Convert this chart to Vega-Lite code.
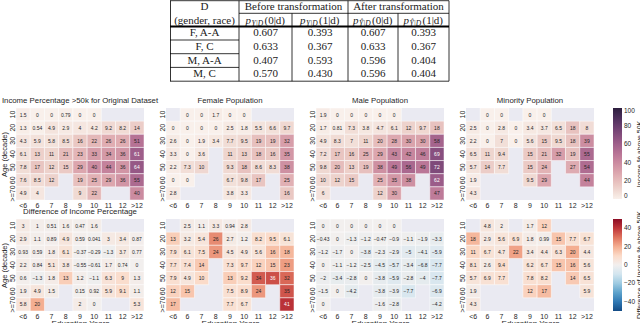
{
"$schema":"https://vega.github.io/schema/vega-lite/v6.json",
"background":"white",
"padding":{"left":0,"top":0,"right":0,"bottom":0},
"spacing":0,
"resolve":{"scale":{"color":"independent"}},
"config":{
 "font":"Liberation Sans",
 "view":{"stroke":null,"fill":"#eaeaf2"},
 "axis":{"domain":false,"ticks":false,"grid":false,"labelFontSize":7,"labelColor":"#262626","titleFontSize":8,"titleFontWeight":"normal","titleColor":"#262626","labelPadding":1,"titlePadding":0},
 "axisX":{"labelAngle":0},
 "axisY":{"labelAngle":270,"titleFontSize":7.5},
 "title":{"fontSize":7.8,"fontWeight":"normal","color":"#262626","offset":2.5},
 "legend":{"gradientLength":91,"gradientThickness":9,"titleOrient":"right","titleAnchor":"middle","labelFontSize":6.5,"titleFontSize":7,"titleFontWeight":"normal","offset":17.5,"labelOffset":1.5,"titlePadding":1,"gradientStrokeWidth":0,"labelColor":"#262626","titleColor":"#262626","padding":0}
},
"datasets":{
"tl":[
{"x":0,"x2":279,"y":0.7,"y2":0.7},{"x":69,"x2":279,"y":13.3,"y2":13.3},{"x":0,"x2":69,"y":40,"y2":40},{"x":0,"x2":69,"y":53.7,"y2":53.7},{"x":0,"x2":69,"y":67.4,"y2":67.4},{"x":0,"x2":279,"y":81.2,"y2":81.2},
{"x":0.5,"x2":0.5,"y":0.7,"y2":81.2},{"x":69,"x2":69,"y":0.7,"y2":81.2},{"x":122,"x2":122,"y":13.3,"y2":81.2},{"x":178,"x2":178,"y":0.7,"y2":81.2},{"x":228,"x2":228,"y":13.3,"y2":81.2},{"x":279,"x2":279,"y":0.7,"y2":81.2}],
"tk":[{"x":0,"x2":279,"y":26.5,"y2":26.5}],
"tt":[
{"x":34.5,"y":7,"t":"D"},{"x":34.5,"y":20.5,"t":"(gender, race)"},{"x":123.5,"y":7,"t":"Before transformation"},{"x":228.5,"y":7,"t":"After transformation"},
{"x":34.5,"y":33.3,"t":"F, A-A"},{"x":95.5,"y":33.3,"t":"0.607"},{"x":150,"y":33.3,"t":"0.393"},{"x":203,"y":33.3,"t":"0.607"},{"x":253.5,"y":33.3,"t":"0.393"},
{"x":34.5,"y":46.9,"t":"F, C"},{"x":95.5,"y":46.9,"t":"0.633"},{"x":150,"y":46.9,"t":"0.367"},{"x":203,"y":46.9,"t":"0.633"},{"x":253.5,"y":46.9,"t":"0.367"},
{"x":34.5,"y":60.6,"t":"M, A-A"},{"x":95.5,"y":60.6,"t":"0.407"},{"x":150,"y":60.6,"t":"0.593"},{"x":203,"y":60.6,"t":"0.596"},{"x":253.5,"y":60.6,"t":"0.404"},
{"x":34.5,"y":74.3,"t":"M, C"},{"x":95.5,"y":74.3,"t":"0.570"},{"x":150,"y":74.3,"t":"0.430"},{"x":203,"y":74.3,"t":"0.596"},{"x":253.5,"y":74.3,"t":"0.404"}],
"tm":[{"x":95.5,"y":20.5,"s":"Y|D","r":"(0|d)"},{"x":150,"y":20.5,"s":"Y|D","r":"(1|d)"},{"x":203,"y":20.5,"s":"Ŷ|D","r":"(0|d)"},{"x":253.5,"y":20.5,"s":"Ŷ|D","r":"(1|d)"}],
"pct":[
{"g":"o","a":"10","e":"<6","v":1.5},{"g":"o","a":"10","e":"6","v":0},{"g":"o","a":"10","e":"7","v":0},{"g":"o","a":"10","e":"8","v":0.79},{"g":"o","a":"10","e":"9","v":0},{"g":"o","a":"10","e":"10","v":0},
{"g":"o","a":"20","e":"<6","v":1.3},{"g":"o","a":"20","e":"6","v":0.54},{"g":"o","a":"20","e":"7","v":4.9},{"g":"o","a":"20","e":"8","v":2.9},{"g":"o","a":"20","e":"9","v":4},{"g":"o","a":"20","e":"10","v":4.2},{"g":"o","a":"20","e":"11","v":9.2},{"g":"o","a":"20","e":"12","v":8.2},{"g":"o","a":"20","e":">12","v":14},
{"g":"o","a":"30","e":"<6","v":4.3},{"g":"o","a":"30","e":"6","v":5.9},{"g":"o","a":"30","e":"7","v":5.8},{"g":"o","a":"30","e":"8","v":8.5},{"g":"o","a":"30","e":"9","v":16},{"g":"o","a":"30","e":"10","v":22},{"g":"o","a":"30","e":"11","v":26},{"g":"o","a":"30","e":"12","v":26},{"g":"o","a":"30","e":">12","v":51},
{"g":"o","a":"40","e":"<6","v":6.1},{"g":"o","a":"40","e":"6","v":13},{"g":"o","a":"40","e":"7","v":11},{"g":"o","a":"40","e":"8","v":21},{"g":"o","a":"40","e":"9","v":23},{"g":"o","a":"40","e":"10","v":33},{"g":"o","a":"40","e":"11","v":34},{"g":"o","a":"40","e":"12","v":36},{"g":"o","a":"40","e":">12","v":61},
{"g":"o","a":"50","e":"<6","v":7.8},{"g":"o","a":"50","e":"6","v":17},{"g":"o","a":"50","e":"7","v":12},{"g":"o","a":"50","e":"8","v":15},{"g":"o","a":"50","e":"9","v":29},{"g":"o","a":"50","e":"10","v":40},{"g":"o","a":"50","e":"11","v":44},{"g":"o","a":"50","e":"12","v":36},{"g":"o","a":"50","e":">12","v":64},
{"g":"o","a":"60","e":"<6","v":7.6},{"g":"o","a":"60","e":"6","v":8.5},{"g":"o","a":"60","e":"7","v":12},{"g":"o","a":"60","e":"9","v":19},{"g":"o","a":"60","e":"10","v":25},{"g":"o","a":"60","e":"11","v":29},{"g":"o","a":"60","e":"12","v":36},{"g":"o","a":"60","e":">12","v":55},
{"g":"o","a":">=70","e":"<6","v":4.9},{"g":"o","a":">=70","e":"6","v":4},{"g":"o","a":">=70","e":"9","v":9},{"g":"o","a":">=70","e":"10","v":22},{"g":"o","a":">=70","e":">12","v":40},
{"g":"f","a":"10","e":"6","v":0},{"g":"f","a":"10","e":"7","v":0},{"g":"f","a":"10","e":"8","v":1.7},{"g":"f","a":"10","e":"9","v":0},{"g":"f","a":"10","e":"10","v":0},
{"g":"f","a":"20","e":"<6","v":0},{"g":"f","a":"20","e":"6","v":0},{"g":"f","a":"20","e":"7","v":0},{"g":"f","a":"20","e":"8","v":0},{"g":"f","a":"20","e":"9","v":2.5},{"g":"f","a":"20","e":"10","v":1.8},{"g":"f","a":"20","e":"11","v":5.5},{"g":"f","a":"20","e":"12","v":6.6},{"g":"f","a":"20","e":">12","v":9.7},
{"g":"f","a":"30","e":"<6","v":2.6},{"g":"f","a":"30","e":"6","v":0},{"g":"f","a":"30","e":"7","v":1.9},{"g":"f","a":"30","e":"8","v":3.4},{"g":"f","a":"30","e":"9","v":7.7},{"g":"f","a":"30","e":"10","v":9.5},{"g":"f","a":"30","e":"11","v":19},{"g":"f","a":"30","e":"12","v":19},{"g":"f","a":"30","e":">12","v":32},
{"g":"f","a":"40","e":"<6","v":3.3},{"g":"f","a":"40","e":"6","v":0},{"g":"f","a":"40","e":"7","v":3.6},{"g":"f","a":"40","e":"9","v":11},{"g":"f","a":"40","e":"10","v":13},{"g":"f","a":"40","e":"11","v":18},{"g":"f","a":"40","e":"12","v":16},{"g":"f","a":"40","e":">12","v":35},
{"g":"f","a":"50","e":"<6","v":2.2},{"g":"f","a":"50","e":"6","v":7.3},{"g":"f","a":"50","e":"7","v":10},{"g":"f","a":"50","e":"9","v":9.3},{"g":"f","a":"50","e":"10","v":18},{"g":"f","a":"50","e":"11","v":8.6},{"g":"f","a":"50","e":"12","v":8.3},{"g":"f","a":"50","e":">12","v":38},
{"g":"f","a":"60","e":"<6","v":0},{"g":"f","a":"60","e":"6","v":0},{"g":"f","a":"60","e":"9","v":6.7},{"g":"f","a":"60","e":"10","v":9.8},{"g":"f","a":"60","e":"11","v":17},{"g":"f","a":"60","e":">12","v":25},
{"g":"f","a":">=70","e":"<6","v":2.8},{"g":"f","a":">=70","e":"9","v":3.8},{"g":"f","a":">=70","e":"10","v":3.3},{"g":"f","a":">=70","e":">12","v":16},
{"g":"m","a":"10","e":"<6","v":1.9},{"g":"m","a":"10","e":"6","v":0},{"g":"m","a":"10","e":"7","v":0},{"g":"m","a":"10","e":"8","v":0},{"g":"m","a":"10","e":"9","v":0},{"g":"m","a":"10","e":"10","v":0},
{"g":"m","a":"20","e":"<6","v":1.7},{"g":"m","a":"20","e":"6","v":0.81},{"g":"m","a":"20","e":"7","v":7.3},{"g":"m","a":"20","e":"8","v":3.8},{"g":"m","a":"20","e":"9","v":4.7},{"g":"m","a":"20","e":"10","v":6.1},{"g":"m","a":"20","e":"11","v":12},{"g":"m","a":"20","e":"12","v":9.7},{"g":"m","a":"20","e":">12","v":18},
{"g":"m","a":"30","e":"<6","v":4.9},{"g":"m","a":"30","e":"6","v":8.3},{"g":"m","a":"30","e":"7","v":7},{"g":"m","a":"30","e":"8","v":11},{"g":"m","a":"30","e":"9","v":20},{"g":"m","a":"30","e":"10","v":28},{"g":"m","a":"30","e":"11","v":30},{"g":"m","a":"30","e":"12","v":30},{"g":"m","a":"30","e":">12","v":58},
{"g":"m","a":"40","e":"<6","v":7.2},{"g":"m","a":"40","e":"6","v":17},{"g":"m","a":"40","e":"7","v":16},{"g":"m","a":"40","e":"8","v":25},{"g":"m","a":"40","e":"9","v":29},{"g":"m","a":"40","e":"10","v":43},{"g":"m","a":"40","e":"11","v":42},{"g":"m","a":"40","e":"12","v":46},{"g":"m","a":"40","e":">12","v":69},
{"g":"m","a":"50","e":"<6","v":9.8},{"g":"m","a":"50","e":"6","v":20},{"g":"m","a":"50","e":"7","v":13},{"g":"m","a":"50","e":"8","v":19},{"g":"m","a":"50","e":"9","v":38},{"g":"m","a":"50","e":"10","v":49},{"g":"m","a":"50","e":"11","v":56},{"g":"m","a":"50","e":"12","v":49},{"g":"m","a":"50","e":">12","v":72},
{"g":"m","a":"60","e":"<6","v":10},{"g":"m","a":"60","e":"6","v":12},{"g":"m","a":"60","e":"7","v":15},{"g":"m","a":"60","e":"9","v":25},{"g":"m","a":"60","e":"10","v":35},{"g":"m","a":"60","e":"11","v":38},{"g":"m","a":"60","e":">12","v":62},
{"g":"m","a":">=70","e":"<6","v":6},{"g":"m","a":">=70","e":"9","v":12},{"g":"m","a":">=70","e":"10","v":30},{"g":"m","a":">=70","e":">12","v":47},
{"g":"n","a":"10","e":"6","v":0},{"g":"n","a":"10","e":"7","v":0},{"g":"n","a":"10","e":"9","v":0},{"g":"n","a":"10","e":"10","v":0},
{"g":"n","a":"20","e":"<6","v":2.5},{"g":"n","a":"20","e":"6","v":0},{"g":"n","a":"20","e":"7","v":2.8},{"g":"n","a":"20","e":"8","v":0},{"g":"n","a":"20","e":"9","v":3.4},{"g":"n","a":"20","e":"10","v":3.7},{"g":"n","a":"20","e":"11","v":6.5},{"g":"n","a":"20","e":"12","v":18},{"g":"n","a":"20","e":">12","v":8},
{"g":"n","a":"30","e":"<6","v":2.2},{"g":"n","a":"30","e":"6","v":0},{"g":"n","a":"30","e":"7","v":7},{"g":"n","a":"30","e":"8","v":0},{"g":"n","a":"30","e":"9","v":5.6},{"g":"n","a":"30","e":"10","v":15},{"g":"n","a":"30","e":"11","v":9.5},{"g":"n","a":"30","e":"12","v":18},{"g":"n","a":"30","e":">12","v":39},
{"g":"n","a":"40","e":"<6","v":6.5},{"g":"n","a":"40","e":"6","v":11},{"g":"n","a":"40","e":"7","v":9.4},{"g":"n","a":"40","e":"9","v":15},{"g":"n","a":"40","e":"10","v":21},{"g":"n","a":"40","e":"11","v":32},{"g":"n","a":"40","e":"12","v":19},{"g":"n","a":"40","e":">12","v":55},
{"g":"n","a":"50","e":"<6","v":5.7},{"g":"n","a":"50","e":"6","v":14},{"g":"n","a":"50","e":"7","v":7.7},{"g":"n","a":"50","e":"9","v":15},{"g":"n","a":"50","e":"10","v":24},{"g":"n","a":"50","e":"12","v":27},{"g":"n","a":"50","e":">12","v":54},
{"g":"n","a":"60","e":"<6","v":1.9},{"g":"n","a":"60","e":"9","v":9.5},{"g":"n","a":"60","e":"10","v":29},{"g":"n","a":"60","e":">12","v":44},
{"g":"n","a":">=70","e":"<6","v":4.3}],
"dif":[
{"g":"o","a":"10","e":"<6","v":3},{"g":"o","a":"10","e":"6","v":1},{"g":"o","a":"10","e":"7","v":0.51},{"g":"o","a":"10","e":"8","v":1.6},{"g":"o","a":"10","e":"9","v":0.47},{"g":"o","a":"10","e":"10","v":1.6},
{"g":"o","a":"20","e":"<6","v":2.9},{"g":"o","a":"20","e":"6","v":1.1},{"g":"o","a":"20","e":"7","v":0.89},{"g":"o","a":"20","e":"8","v":4.9},{"g":"o","a":"20","e":"9","v":0.59},{"g":"o","a":"20","e":"10","v":0.041},{"g":"o","a":"20","e":"11","v":3},{"g":"o","a":"20","e":"12","v":3.4},{"g":"o","a":"20","e":">12","v":0.87},
{"g":"o","a":"30","e":"<6","v":0.93},{"g":"o","a":"30","e":"6","v":0.59},{"g":"o","a":"30","e":"7","v":1.8},{"g":"o","a":"30","e":"8","v":6.1},{"g":"o","a":"30","e":"9","v":-0.37},{"g":"o","a":"30","e":"10","v":-0.29},{"g":"o","a":"30","e":"11","v":-1.3},{"g":"o","a":"30","e":"12","v":3.7},{"g":"o","a":"30","e":">12","v":0.77},
{"g":"o","a":"40","e":"<6","v":2.2},{"g":"o","a":"40","e":"6","v":0.84},{"g":"o","a":"40","e":"7","v":5.1},{"g":"o","a":"40","e":"8","v":3.8},{"g":"o","a":"40","e":"9","v":-0.55},{"g":"o","a":"40","e":"10","v":-0.61},{"g":"o","a":"40","e":"11","v":1.7},{"g":"o","a":"40","e":"12","v":0.74},{"g":"o","a":"40","e":">12","v":0},
{"g":"o","a":"50","e":"<6","v":0.6},{"g":"o","a":"50","e":"6","v":-1.3},{"g":"o","a":"50","e":"7","v":1.8},{"g":"o","a":"50","e":"8","v":13},{"g":"o","a":"50","e":"9","v":1.2},{"g":"o","a":"50","e":"10","v":-1.1},{"g":"o","a":"50","e":"11","v":6.3},{"g":"o","a":"50","e":"12","v":9},{"g":"o","a":"50","e":">12","v":1.3},
{"g":"o","a":"60","e":"<6","v":1.9},{"g":"o","a":"60","e":"6","v":4.9},{"g":"o","a":"60","e":"7","v":1.5},{"g":"o","a":"60","e":"9","v":0.15},{"g":"o","a":"60","e":"10","v":0.92},{"g":"o","a":"60","e":"11","v":5.9},{"g":"o","a":"60","e":"12","v":9.1},{"g":"o","a":"60","e":">12","v":1.1},
{"g":"o","a":">=70","e":"<6","v":5.8},{"g":"o","a":">=70","e":"6","v":20},{"g":"o","a":">=70","e":"9","v":2},{"g":"o","a":">=70","e":"10","v":0},{"g":"o","a":">=70","e":">12","v":5.3},
{"g":"f","a":"10","e":"6","v":2.5},{"g":"f","a":"10","e":"7","v":1.1},{"g":"f","a":"10","e":"8","v":3.3},{"g":"f","a":"10","e":"9","v":0.94},{"g":"f","a":"10","e":"10","v":2.8},
{"g":"f","a":"20","e":"<6","v":13},{"g":"f","a":"20","e":"6","v":3.2},{"g":"f","a":"20","e":"7","v":5.4},{"g":"f","a":"20","e":"8","v":26},{"g":"f","a":"20","e":"9","v":2.7},{"g":"f","a":"20","e":"10","v":1.2},{"g":"f","a":"20","e":"11","v":8.2},{"g":"f","a":"20","e":"12","v":9.5},{"g":"f","a":"20","e":">12","v":6.1},
{"g":"f","a":"30","e":"<6","v":7.9},{"g":"f","a":"30","e":"6","v":6.1},{"g":"f","a":"30","e":"7","v":7.5},{"g":"f","a":"30","e":"8","v":24},{"g":"f","a":"30","e":"9","v":4.5},{"g":"f","a":"30","e":"10","v":4.9},{"g":"f","a":"30","e":"11","v":5.6},{"g":"f","a":"30","e":"12","v":16},{"g":"f","a":"30","e":">12","v":18},
{"g":"f","a":"40","e":"<6","v":7.7},{"g":"f","a":"40","e":"6","v":7.4},{"g":"f","a":"40","e":"7","v":14},{"g":"f","a":"40","e":"9","v":7.3},{"g":"f","a":"40","e":"10","v":9.7},{"g":"f","a":"40","e":"11","v":12},{"g":"f","a":"40","e":"12","v":15},{"g":"f","a":"40","e":">12","v":23},
{"g":"f","a":"50","e":"<6","v":7.9},{"g":"f","a":"50","e":"6","v":4.9},{"g":"f","a":"50","e":"7","v":10},{"g":"f","a":"50","e":"9","v":13},{"g":"f","a":"50","e":"10","v":9.2},{"g":"f","a":"50","e":"11","v":34},{"g":"f","a":"50","e":"12","v":36},{"g":"f","a":"50","e":">12","v":32},
{"g":"f","a":"60","e":"<6","v":12},{"g":"f","a":"60","e":"6","v":15},{"g":"f","a":"60","e":"9","v":7.5},{"g":"f","a":"60","e":"10","v":8.9},{"g":"f","a":"60","e":"11","v":24},{"g":"f","a":"60","e":">12","v":35},
{"g":"f","a":">=70","e":"<6","v":17},{"g":"f","a":">=70","e":"9","v":7.7},{"g":"f","a":">=70","e":"10","v":6.7},{"g":"f","a":">=70","e":">12","v":41},
{"g":"m","a":"10","e":"<6","v":0},{"g":"m","a":"10","e":"6","v":0},{"g":"m","a":"10","e":"7","v":0},{"g":"m","a":"10","e":"8","v":0},{"g":"m","a":"10","e":"9","v":0},{"g":"m","a":"10","e":"10","v":0},
{"g":"m","a":"20","e":"<6","v":-0.43},{"g":"m","a":"20","e":"6","v":0},{"g":"m","a":"20","e":"7","v":-1.3},{"g":"m","a":"20","e":"8","v":-1.2},{"g":"m","a":"20","e":"9","v":-0.47},{"g":"m","a":"20","e":"10","v":-0.9},{"g":"m","a":"20","e":"11","v":-1.1},{"g":"m","a":"20","e":"12","v":-1.9},{"g":"m","a":"20","e":">12","v":-3.3},
{"g":"m","a":"30","e":"<6","v":-1.2},{"g":"m","a":"30","e":"6","v":-1.7},{"g":"m","a":"30","e":"7","v":0},{"g":"m","a":"30","e":"8","v":-3.8},{"g":"m","a":"30","e":"9","v":-2.3},{"g":"m","a":"30","e":"10","v":-2.9},{"g":"m","a":"30","e":"11","v":-5},{"g":"m","a":"30","e":"12","v":-4.1},{"g":"m","a":"30","e":">12","v":-5.9},
{"g":"m","a":"40","e":"<6","v":0},{"g":"m","a":"40","e":"6","v":-1.1},{"g":"m","a":"40","e":"7","v":-1.2},{"g":"m","a":"40","e":"8","v":-2.5},{"g":"m","a":"40","e":"9","v":-4.5},{"g":"m","a":"40","e":"10","v":-5.7},{"g":"m","a":"40","e":"11","v":-3.4},{"g":"m","a":"40","e":"12","v":-6.8},{"g":"m","a":"40","e":">12","v":-7.7},
{"g":"m","a":"50","e":"<6","v":-2},{"g":"m","a":"50","e":"6","v":-3.4},{"g":"m","a":"50","e":"7","v":-2.8},{"g":"m","a":"50","e":"8","v":0},{"g":"m","a":"50","e":"9","v":-3.8},{"g":"m","a":"50","e":"10","v":-5.9},{"g":"m","a":"50","e":"11","v":-2.8},{"g":"m","a":"50","e":"12","v":-4},{"g":"m","a":"50","e":">12","v":-7.7},
{"g":"m","a":"60","e":"<6","v":-1.5},{"g":"m","a":"60","e":"6","v":0},{"g":"m","a":"60","e":"7","v":-4.2},{"g":"m","a":"60","e":"9","v":-3.8},{"g":"m","a":"60","e":"10","v":-3.9},{"g":"m","a":"60","e":"11","v":-7.7},{"g":"m","a":"60","e":">12","v":-6.9},
{"g":"m","a":">=70","e":"<6","v":0},{"g":"m","a":">=70","e":"9","v":-1.6},{"g":"m","a":">=70","e":"10","v":-2.8},{"g":"m","a":">=70","e":">12","v":-4.2},
{"g":"n","a":"10","e":"6","v":4.8},{"g":"n","a":"10","e":"7","v":2},{"g":"n","a":"10","e":"9","v":1.7},{"g":"n","a":"10","e":"10","v":12},
{"g":"n","a":"20","e":"<6","v":18},{"g":"n","a":"20","e":"6","v":2.9},{"g":"n","a":"20","e":"7","v":5.6},{"g":"n","a":"20","e":"8","v":6.9},{"g":"n","a":"20","e":"9","v":1.8},{"g":"n","a":"20","e":"10","v":0.99},{"g":"n","a":"20","e":"11","v":15},{"g":"n","a":"20","e":"12","v":7.7},{"g":"n","a":"20","e":">12","v":6.7},
{"g":"n","a":"30","e":"<6","v":11},{"g":"n","a":"30","e":"6","v":6.7},{"g":"n","a":"30","e":"7","v":4.7},{"g":"n","a":"30","e":"8","v":22},{"g":"n","a":"30","e":"9","v":3.4},{"g":"n","a":"30","e":"10","v":4.4},{"g":"n","a":"30","e":"11","v":6.3},{"g":"n","a":"30","e":"12","v":20},{"g":"n","a":"30","e":">12","v":4.4},
{"g":"n","a":"40","e":"<6","v":8.1},{"g":"n","a":"40","e":"6","v":2.6},{"g":"n","a":"40","e":"7","v":9.4},{"g":"n","a":"40","e":"9","v":6.2},{"g":"n","a":"40","e":"10","v":6.7},{"g":"n","a":"40","e":"11","v":15},{"g":"n","a":"40","e":"12","v":16},{"g":"n","a":"40","e":">12","v":5.6},
{"g":"n","a":"50","e":"<6","v":5.7},{"g":"n","a":"50","e":"6","v":6.9},{"g":"n","a":"50","e":"7","v":7.7},{"g":"n","a":"50","e":"9","v":7.8},{"g":"n","a":"50","e":"10","v":8.2},{"g":"n","a":"50","e":"12","v":14},{"g":"n","a":"50","e":">12","v":6.5},
{"g":"n","a":"60","e":"<6","v":1.9},{"g":"n","a":"60","e":"9","v":12},{"g":"n","a":"60","e":"10","v":17},{"g":"n","a":"60","e":">12","v":5.9},
{"g":"n","a":">=70","e":"<6","v":4.3}]
},
"vconcat":[
{
 "width":433,"height":96.5,
 "view":{"fill":null,"stroke":null},
 "encoding":{
  "x":{"field":"x","type":"quantitative","scale":{"domain":[-154,279]},"axis":null},
  "y":{"field":"y","type":"quantitative","scale":{"domain":[0,96.5],"reverse":true},"axis":null}
 },
 "layer":[
  {"data":{"name":"tl"},"mark":{"type":"rule","color":"black","strokeWidth":0.8},"encoding":{"x2":{"field":"x2"},"y2":{"field":"y2"}}},
  {"data":{"name":"tk"},"mark":{"type":"rule","color":"black","strokeWidth":1.8},"encoding":{"x2":{"field":"x2"},"y2":{"field":"y2"}}},
  {"data":{"name":"tt"},"mark":{"type":"text","font":"Liberation Serif","fontSize":11,"color":"#222","baseline":"middle"},"encoding":{"text":{"field":"t"}}},
  {"data":{"name":"tm"},"mark":{"type":"text","text":"p","font":"Liberation Serif","fontStyle":"italic","fontSize":11,"color":"#222","align":"left","baseline":"middle","dx":-20}},
  {"data":{"name":"tm"},"mark":{"type":"text","font":"Liberation Serif","fontStyle":"italic","fontSize":7.5,"color":"#222","align":"left","baseline":"middle","dx":-14,"dy":3},"encoding":{"text":{"field":"s"}}},
  {"data":{"name":"tm"},"mark":{"type":"text","font":"Liberation Serif","fontSize":11,"color":"#222","align":"left","baseline":"middle","dx":-1},"encoding":{"text":{"field":"r"}}}
 ]
},
{
 "bounds":"flush","spacing":22,
 "resolve":{"scale":{"color":"shared"}},
 "hconcat":[
  {"width":128,"height":92,"title":"Income Percentage >50k for Original Dataset","data":{"name":"pct"},"transform":[{"filter":"datum.g==='o'"}],
   "encoding":{"x":{"field":"e","type":"ordinal","scale":{"domain":["<6","6","7","8","9","10","11","12",">12"],"paddingInner":0,"paddingOuter":0},"axis":{"title":null}},"y":{"field":"a","type":"ordinal","scale":{"domain":["10","20","30","40","50","60",">=70"],"paddingInner":0,"paddingOuter":0},"axis":{"title":"Age (decade)"}}},
   "layer":[
    {"mark":{"type":"rect","stroke":"white","strokeWidth":0.5},"encoding":{"color":{"field":"v","type":"quantitative","title":"Income % above 50K","scale":{"domain":[0,12.5,25,37.5,50,62.5,75,87.5,100],"range":["#f9f0eb","#edd1cb","#e1b0b4","#cf91a3","#b87496","#9a5b88","#774576","#52315e","#2d1e3e"]},"legend":{"values":[0,20,40,60,80,100],"encode":{"title":{"update":{"angle":{"value":-90},"baseline":{"value":"top"}}}}}}}},
    {"mark":{"type":"text","fontSize":5},"encoding":{"text":{"field":"v","type":"quantitative","format":".2~g"},"color":{"condition":{"test":"datum.v>=60","value":"white"},"value":"#262626"}}}
   ]},
  {"width":128,"height":92,"title":"Female Population","data":{"name":"pct"},"transform":[{"filter":"datum.g==='f'"}],
   "encoding":{"x":{"field":"e","type":"ordinal","scale":{"domain":["<6","6","7","8","9","10","11","12",">12"],"paddingInner":0,"paddingOuter":0},"axis":{"title":null}},"y":{"field":"a","type":"ordinal","scale":{"domain":["10","20","30","40","50","60",">=70"],"paddingInner":0,"paddingOuter":0},"axis":{"title":null}}},
   "layer":[
    {"mark":{"type":"rect","stroke":"white","strokeWidth":0.5},"encoding":{"color":{"field":"v","type":"quantitative","title":"Income % above 50K","scale":{"domain":[0,12.5,25,37.5,50,62.5,75,87.5,100],"range":["#f9f0eb","#edd1cb","#e1b0b4","#cf91a3","#b87496","#9a5b88","#774576","#52315e","#2d1e3e"]},"legend":{"values":[0,20,40,60,80,100],"encode":{"title":{"update":{"angle":{"value":-90},"baseline":{"value":"top"}}}}}}}},
    {"mark":{"type":"text","fontSize":5},"encoding":{"text":{"field":"v","type":"quantitative","format":".2~g"},"color":{"condition":{"test":"datum.v>=60","value":"white"},"value":"#262626"}}}
   ]},
  {"width":128,"height":92,"title":"Male Population","data":{"name":"pct"},"transform":[{"filter":"datum.g==='m'"}],
   "encoding":{"x":{"field":"e","type":"ordinal","scale":{"domain":["<6","6","7","8","9","10","11","12",">12"],"paddingInner":0,"paddingOuter":0},"axis":{"title":null}},"y":{"field":"a","type":"ordinal","scale":{"domain":["10","20","30","40","50","60",">=70"],"paddingInner":0,"paddingOuter":0},"axis":{"title":null}}},
   "layer":[
    {"mark":{"type":"rect","stroke":"white","strokeWidth":0.5},"encoding":{"color":{"field":"v","type":"quantitative","title":"Income % above 50K","scale":{"domain":[0,12.5,25,37.5,50,62.5,75,87.5,100],"range":["#f9f0eb","#edd1cb","#e1b0b4","#cf91a3","#b87496","#9a5b88","#774576","#52315e","#2d1e3e"]},"legend":{"values":[0,20,40,60,80,100],"encode":{"title":{"update":{"angle":{"value":-90},"baseline":{"value":"top"}}}}}}}},
    {"mark":{"type":"text","fontSize":5},"encoding":{"text":{"field":"v","type":"quantitative","format":".2~g"},"color":{"condition":{"test":"datum.v>=60","value":"white"},"value":"#262626"}}}
   ]},
  {"width":128,"height":92,"title":"Minority Population","data":{"name":"pct"},"transform":[{"filter":"datum.g==='n'"}],
   "encoding":{"x":{"field":"e","type":"ordinal","scale":{"domain":["<6","6","7","8","9","10","11","12",">12"],"paddingInner":0,"paddingOuter":0},"axis":{"title":null}},"y":{"field":"a","type":"ordinal","scale":{"domain":["10","20","30","40","50","60",">=70"],"paddingInner":0,"paddingOuter":0},"axis":{"title":null}}},
   "layer":[
    {"mark":{"type":"rect","stroke":"white","strokeWidth":0.5},"encoding":{"color":{"field":"v","type":"quantitative","title":"Income % above 50K","scale":{"domain":[0,12.5,25,37.5,50,62.5,75,87.5,100],"range":["#f9f0eb","#edd1cb","#e1b0b4","#cf91a3","#b87496","#9a5b88","#774576","#52315e","#2d1e3e"]},"legend":{"values":[0,20,40,60,80,100],"encode":{"title":{"update":{"angle":{"value":-90},"baseline":{"value":"top"}}}}}}}},
    {"mark":{"type":"text","fontSize":5},"encoding":{"text":{"field":"v","type":"quantitative","format":".2~g"},"color":{"condition":{"test":"datum.v>=60","value":"white"},"value":"#262626"}}}
   ]}
 ]
},
{
 "bounds":"flush","spacing":22,
 "resolve":{"scale":{"color":"shared"}},
 "hconcat":[
  {"width":128,"height":92,"title":"Difference of Income Percentage","data":{"name":"dif"},"transform":[{"filter":"datum.g==='o'"}],
   "encoding":{"x":{"field":"e","type":"ordinal","scale":{"domain":["<6","6","7","8","9","10","11","12",">12"],"paddingInner":0,"paddingOuter":0},"axis":{"title":"Education Years"}},"y":{"field":"a","type":"ordinal","scale":{"domain":["10","20","30","40","50","60",">=70"],"paddingInner":0,"paddingOuter":0},"axis":{"title":"Age (decade)"}}},
   "layer":[
    {"mark":{"type":"rect","stroke":"white","strokeWidth":0.5},"encoding":{"color":{"field":"v","type":"quantitative","title":"Difference of Income % above 50K","scale":{"domain":[-50,50],"scheme":{"name":"redblue","extent":[1,0]}},"legend":{"values":[-40,-20,0,20,40],"gradientLength":92,"encode":{"title":{"update":{"angle":{"value":-90},"baseline":{"value":"top"}}}}}}}},
    {"mark":{"type":"text","fontSize":5},"encoding":{"text":{"field":"v","type":"quantitative","format":".2~g"},"color":{"condition":{"test":"abs(datum.v)>=36","value":"white"},"value":"#262626"}}}
   ]},
  {"width":128,"height":92,"data":{"name":"dif"},"transform":[{"filter":"datum.g==='f'"}],
   "encoding":{"x":{"field":"e","type":"ordinal","scale":{"domain":["<6","6","7","8","9","10","11","12",">12"],"paddingInner":0,"paddingOuter":0},"axis":{"title":"Education Years"}},"y":{"field":"a","type":"ordinal","scale":{"domain":["10","20","30","40","50","60",">=70"],"paddingInner":0,"paddingOuter":0},"axis":{"title":null}}},
   "layer":[
    {"mark":{"type":"rect","stroke":"white","strokeWidth":0.5},"encoding":{"color":{"field":"v","type":"quantitative","title":"Difference of Income % above 50K","scale":{"domain":[-50,50],"scheme":{"name":"redblue","extent":[1,0]}},"legend":{"values":[-40,-20,0,20,40],"gradientLength":92,"encode":{"title":{"update":{"angle":{"value":-90},"baseline":{"value":"top"}}}}}}}},
    {"mark":{"type":"text","fontSize":5},"encoding":{"text":{"field":"v","type":"quantitative","format":".2~g"},"color":{"condition":{"test":"abs(datum.v)>=36","value":"white"},"value":"#262626"}}}
   ]},
  {"width":128,"height":92,"data":{"name":"dif"},"transform":[{"filter":"datum.g==='m'"}],
   "encoding":{"x":{"field":"e","type":"ordinal","scale":{"domain":["<6","6","7","8","9","10","11","12",">12"],"paddingInner":0,"paddingOuter":0},"axis":{"title":"Education Years"}},"y":{"field":"a","type":"ordinal","scale":{"domain":["10","20","30","40","50","60",">=70"],"paddingInner":0,"paddingOuter":0},"axis":{"title":null}}},
   "layer":[
    {"mark":{"type":"rect","stroke":"white","strokeWidth":0.5},"encoding":{"color":{"field":"v","type":"quantitative","title":"Difference of Income % above 50K","scale":{"domain":[-50,50],"scheme":{"name":"redblue","extent":[1,0]}},"legend":{"values":[-40,-20,0,20,40],"gradientLength":92,"encode":{"title":{"update":{"angle":{"value":-90},"baseline":{"value":"top"}}}}}}}},
    {"mark":{"type":"text","fontSize":5},"encoding":{"text":{"field":"v","type":"quantitative","format":".2~g"},"color":{"condition":{"test":"abs(datum.v)>=36","value":"white"},"value":"#262626"}}}
   ]},
  {"width":128,"height":92,"data":{"name":"dif"},"transform":[{"filter":"datum.g==='n'"}],
   "encoding":{"x":{"field":"e","type":"ordinal","scale":{"domain":["<6","6","7","8","9","10","11","12",">12"],"paddingInner":0,"paddingOuter":0},"axis":{"title":"Education Years"}},"y":{"field":"a","type":"ordinal","scale":{"domain":["10","20","30","40","50","60",">=70"],"paddingInner":0,"paddingOuter":0},"axis":{"title":null}}},
   "layer":[
    {"mark":{"type":"rect","stroke":"white","strokeWidth":0.5},"encoding":{"color":{"field":"v","type":"quantitative","title":"Difference of Income % above 50K","scale":{"domain":[-50,50],"scheme":{"name":"redblue","extent":[1,0]}},"legend":{"values":[-40,-20,0,20,40],"gradientLength":92,"encode":{"title":{"update":{"angle":{"value":-90},"baseline":{"value":"top"}}}}}}}},
    {"mark":{"type":"text","fontSize":5},"encoding":{"text":{"field":"v","type":"quantitative","format":".2~g"},"color":{"condition":{"test":"abs(datum.v)>=36","value":"white"},"value":"#262626"}}}
   ]}
 ]
}
]
}
